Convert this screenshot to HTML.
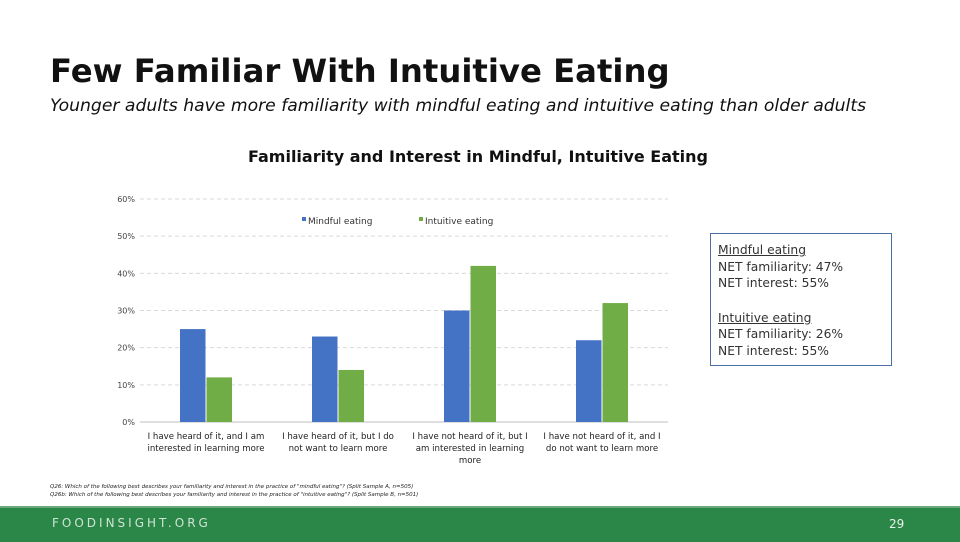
<!DOCTYPE html>
<html><head><meta charset="utf-8"><style>
body{margin:0;width:960px;height:540px;position:relative;background:#fff;font-family:"DejaVu Sans",sans-serif;overflow:hidden}
.t{position:absolute;white-space:nowrap}
</style></head><body>
<div class="t" style="left:50px;top:52px;font-size:32.3px;font-weight:bold;color:#111">Few Familiar With Intuitive Eating</div>
<div class="t" style="left:50px;top:96px;font-size:17.2px;font-style:italic;color:#111">Younger adults have more familiarity with mindful eating and intuitive eating than older adults</div>
<div class="t" style="left:248px;top:147px;font-size:16px;font-weight:bold;color:#111">Familiarity and Interest in Mindful, Intuitive Eating</div>
<svg id="chart" width="960" height="540" style="position:absolute;left:0;top:0" font-family="DejaVu Sans, sans-serif"></svg>
<div style="position:absolute;left:710px;top:233px;width:182px;height:133px;border:1px solid #4a6fa5;box-sizing:border-box;padding:8px 7px;font-size:12.3px;color:#333;line-height:16.5px">
<div style="text-decoration:underline">Mindful eating</div><div>NET familiarity: 47%</div><div>NET interest: 55%</div>
<div style="height:18px"></div>
<div style="text-decoration:underline">Intuitive eating</div><div>NET familiarity: 26%</div><div>NET interest: 55%</div></div>
<div class="t" style="left:50px;top:483px;font-size:5.5px;font-style:italic;color:#222;line-height:8px">Q26: Which of the following best describes your familiarity and interest in the practice of "mindful eating"? (Split Sample A, n=505)<br>Q26b: Which of the following best describes your familiarity and interest in the practice of "intuitive eating"? (Split Sample B, n=501)</div>
<div style="position:absolute;left:0;top:506px;width:960px;height:34px;background:#2b8748;border-top:2px solid #6aa77a"></div>
<div class="t" style="left:52px;top:516px;font-size:12px;letter-spacing:3px;color:#cfe3d5">FOODINSIGHT.ORG</div>
<div class="t" style="left:889px;top:517px;font-size:12px;color:#e8f2ea">29</div>
<script>
const categories=[["I have heard of it, and I am","interested in learning more"],["I have heard of it, but I do","not want to learn more"],["I have not heard of it, but I","am interested in learning","more"],["I have not heard of it, and I","do not want to learn more"]];
const mindful=[25,23,30,22];
const intuitive=[12,14,42,32];
const ticks=[0,10,20,30,40,50,60];
const svg=document.getElementById('chart');const NS='http://www.w3.org/2000/svg';
const x0=140,x1=668,y0=422,y60=199;
const y=v=>y0-(v/60)*(y0-y60);
const cw=(x1-x0)/categories.length;
function mk(t,a){const e=document.createElementNS(NS,t);for(const k in a)e.setAttribute(k,a[k]);svg.appendChild(e);return e;}
ticks.forEach(t=>{const l=mk('line',{x1:x0,x2:x1,y1:y(t),y2:y(t),stroke:t?'#d9d9d9':'#bfbfbf','stroke-dasharray':t?'4,3':''});


const tx=mk('text',{x:135,y:y(t)+3,'text-anchor':'end','font-size':8,fill:'#444'});tx.textContent=t+'%';

});
categories.forEach((c,i)=>{const cx=x0+cw*(i+0.5);
const b=mk('rect',{x:cx-26,y:y(mindful[i]),width:25.5,height:y0-y(mindful[i]),fill:'#4472c4'});


const g=mk('rect',{x:cx+0.5,y:y(intuitive[i]),width:25.5,height:y0-y(intuitive[i]),fill:'#70ad47'});


c.forEach((ln,j)=>{const t=mk('text',{x:cx,y:439+j*12,'text-anchor':'middle','font-size':8.6,fill:'#222'});t.textContent=ln;

});});
[[302,'#4472c4','Mindful eating'],[419,'#70ad47','Intuitive eating']].forEach(([lx,col,lab])=>{
const r=mk('rect',{x:lx,y:217,width:4,height:4,fill:col});
const t=mk('text',{x:lx+6,y:224,'font-size':9,fill:'#333'});t.textContent=lab;

});
</script>
</body></html>
